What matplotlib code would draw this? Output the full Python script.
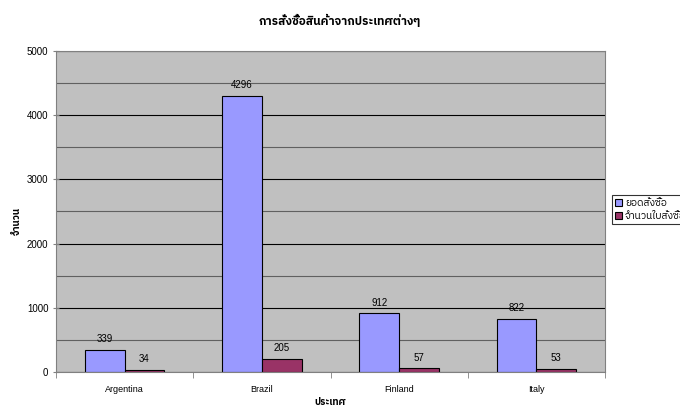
import numpy as np
import matplotlib.pyplot as plt
from matplotlib import font_manager
from matplotlib.ticker import MultipleLocator

countries = ["Argentina", "Brazil", "Finland", "Italy"]
order_amount = [339, 4296, 912, 822]
order_count = [34, 205, 57, 53]
series_names = ["ยอดสั่งซื้อ", "จำนวนใบสั่งซื้อ"]

# look for anything that can draw Thai, keep Liberation for the latin text
thai = [f.name for f in font_manager.fontManager.ttflist
        if "thai" in f.name.lower() or "loma" in f.name.lower() or "garuda" in f.name.lower()]
families = ["Liberation Sans"] + sorted(set(thai)) + ["DejaVu Sans"]
plt.rcParams["font.family"] = families

fig = plt.figure(figsize=(6.8, 4.12), dpi=100)
ax = fig.add_axes([56 / 680, 40 / 412, 549 / 680, 321 / 412])
ax.set_facecolor("#C0C0C0")

x = np.arange(len(countries))
w = 0.29
b1 = ax.bar(x - w / 2, order_amount, w, color="#9999FF", edgecolor="black", linewidth=0.8, label=series_names[0])
b2 = ax.bar(x + w / 2, order_count, w, color="#993366", edgecolor="black", linewidth=0.8, label=series_names[1])

for bars, vals in ((b1, order_amount), (b2, order_count)):
    for r, v in zip(bars, vals):
        ax.text(r.get_x() + r.get_width() / 2, v + 90, str(v), ha="center", va="bottom", fontsize=7)

ax.set_xlim(-0.5, 3.5)
ax.set_ylim(0, 5000)
ax.yaxis.set_major_locator(MultipleLocator(1000))
ax.yaxis.set_minor_locator(MultipleLocator(500))
ax.grid(which="major", axis="y", color="black", linewidth=0.8)
ax.grid(which="minor", axis="y", color="#606060", linewidth=0.8)
ax.set_axisbelow(True)

ax.set_xticks(x)
ax.set_xticklabels(countries, fontsize=6.5)
ax.set_xticks(np.arange(-0.5, 4.0, 1.0), minor=True)
ax.tick_params(axis="x", which="major", length=0, pad=9)
ax.tick_params(axis="x", which="minor", length=4, color="#808080")
ax.tick_params(axis="y", which="major", length=4, direction="inout", labelsize=7, color="#808080")
ax.tick_params(axis="y", which="minor", length=0)

for side in ("top", "right", "left", "bottom"):
    ax.spines[side].set_color("#808080")

ax.set_xlabel("ประเทศ", fontsize=7, fontweight="bold")
ax.set_ylabel("จำนวน", fontsize=7, fontweight="bold")
ax.xaxis.set_label_coords(0.5, (372 - 397) / 321)
ax.yaxis.set_label_coords((22 - 56) / 549, 0.47)
fig.suptitle("การสั่งซื้อสินค้าจากประเทศต่างๆ", y=0.965, fontsize=8.4, fontweight="bold")

leg = ax.legend(loc="upper left", bbox_to_anchor=((612 - 56) / 549, (372 - 195) / 321),
                frameon=True, fancybox=False, edgecolor="black", fontsize=7.3,
                handlelength=0.7, handleheight=0.7, handletextpad=0.3, borderpad=0.3,
                labelspacing=0.3, borderaxespad=0)
leg.get_frame().set_linewidth(0.8)

fig.savefig("out.png", dpi=100)
